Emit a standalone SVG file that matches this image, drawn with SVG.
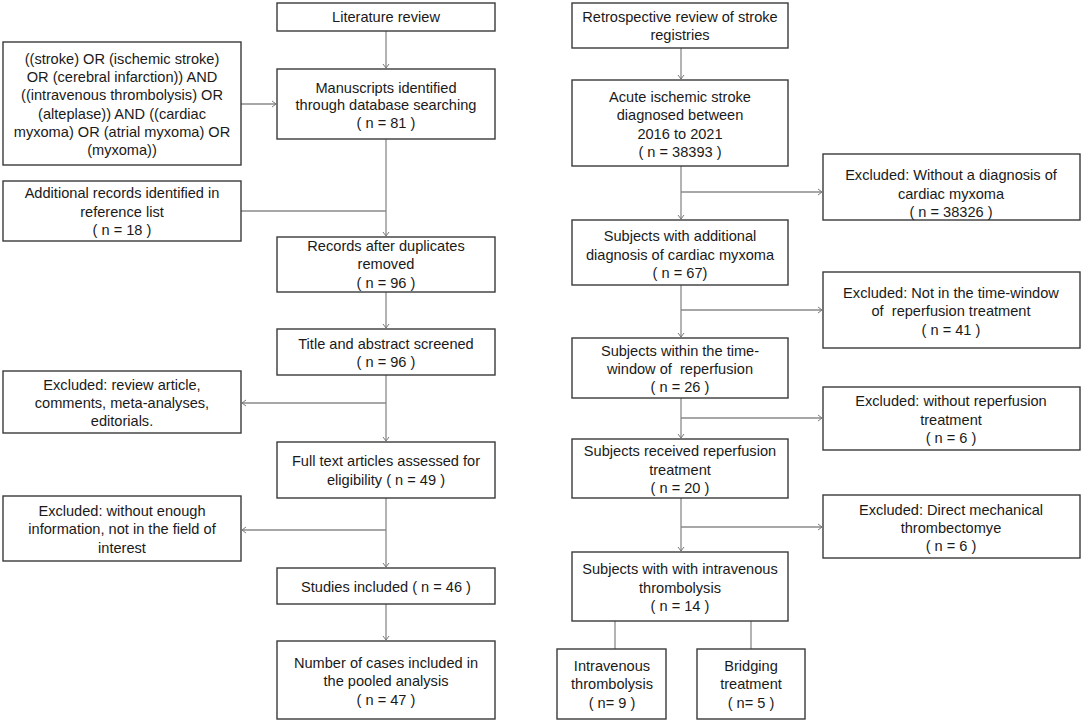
<svg xmlns="http://www.w3.org/2000/svg" width="1084" height="723" viewBox="0 0 1084 723">
<defs>
<style>
.box{fill:#fff;stroke:#3a3a3a;stroke-width:1.4}
.t{font-family:"Liberation Sans",Arial,sans-serif;font-size:14.6px;fill:#1a1a1a;text-anchor:middle}
.c{fill:none;stroke:#8a8a8a;stroke-width:1.3}
</style>
<marker id="ah" markerWidth="8" markerHeight="8" refX="5" refY="4" orient="auto" markerUnits="userSpaceOnUse">
<path d="M1,1 L5,4 L1,7" fill="none" stroke="#7a7a7a" stroke-width="1"/>
</marker>
</defs>
<rect width="1084" height="723" fill="#fff"/>
<g id="connectors">
<line class="c" x1="386" y1="31" x2="386" y2="68" marker-end="url(#ah)"/>
<line class="c" x1="241" y1="104" x2="276" y2="104" marker-end="url(#ah)"/>
<line class="c" x1="386" y1="139" x2="386" y2="236" marker-end="url(#ah)"/>
<line class="c" x1="241" y1="211" x2="386" y2="211"/>
<line class="c" x1="386" y1="292" x2="386" y2="328" marker-end="url(#ah)"/>
<line class="c" x1="386" y1="375" x2="386" y2="441" marker-end="url(#ah)"/>
<line class="c" x1="386" y1="403" x2="242" y2="403" marker-end="url(#ah)"/>
<line class="c" x1="386" y1="498" x2="386" y2="567" marker-end="url(#ah)"/>
<line class="c" x1="386" y1="530" x2="242" y2="530" marker-end="url(#ah)"/>
<line class="c" x1="386" y1="604" x2="386" y2="640" marker-end="url(#ah)"/>
<line class="c" x1="681" y1="48" x2="681" y2="79" marker-end="url(#ah)"/>
<line class="c" x1="681" y1="166" x2="681" y2="219" marker-end="url(#ah)"/>
<line class="c" x1="681" y1="192" x2="822" y2="192" marker-end="url(#ah)"/>
<line class="c" x1="681" y1="285" x2="681" y2="337" marker-end="url(#ah)"/>
<line class="c" x1="681" y1="310" x2="822" y2="310" marker-end="url(#ah)"/>
<line class="c" x1="681" y1="398" x2="681" y2="438" marker-end="url(#ah)"/>
<line class="c" x1="681" y1="418" x2="822" y2="418" marker-end="url(#ah)"/>
<line class="c" x1="681" y1="498" x2="681" y2="551" marker-end="url(#ah)"/>
<line class="c" x1="681" y1="527" x2="822" y2="527" marker-end="url(#ah)"/>
<line class="c" x1="615" y1="621" x2="615" y2="649"/>
<line class="c" x1="751" y1="621" x2="751" y2="649"/>
</g>
<g id="lit-review"><rect class="box" x="277" y="3" width="218" height="28"/>
<text class="t" x="386" y="22">Literature review</text></g>
<g id="query"><rect class="box" x="3" y="42" width="238" height="123"/>
<text class="t" x="122" y="63.5">((stroke) OR (ischemic stroke)</text>
<text class="t" x="122" y="81.5">OR (cerebral infarction)) AND</text>
<text class="t" x="122" y="100">((intravenous thrombolysis) OR</text>
<text class="t" x="122" y="118.5">(alteplase)) AND ((cardiac</text>
<text class="t" x="122" y="137">myxoma) OR (atrial myxoma) OR</text>
<text class="t" x="122" y="155">(myxoma))</text></g>
<g id="manuscripts"><rect class="box" x="277" y="69" width="218" height="70"/>
<text class="t" x="386" y="92.5">Manuscripts identified</text>
<text class="t" x="386" y="110">through database searching</text>
<text class="t" x="386" y="127.5">( n = 81 )</text></g>
<g id="additional"><rect class="box" x="3" y="181" width="238" height="60"/>
<text class="t" x="122" y="198">Additional records identified in</text>
<text class="t" x="122" y="217">reference list</text>
<text class="t" x="122" y="235">( n = 18 )</text></g>
<g id="records"><rect class="box" x="277" y="237" width="218" height="55"/>
<text class="t" x="386" y="251">Records after duplicates</text>
<text class="t" x="386" y="269">removed</text>
<text class="t" x="386" y="288">( n = 96 )</text></g>
<g id="title-abstract"><rect class="box" x="277" y="329" width="218" height="46"/>
<text class="t" x="386" y="348.5">Title and abstract screened</text>
<text class="t" x="386" y="367">( n = 96 )</text></g>
<g id="excl-review"><rect class="box" x="3" y="371" width="238" height="62"/>
<text class="t" x="122" y="389.5">Excluded: review article,</text>
<text class="t" x="122" y="408">comments, meta-analyses,</text>
<text class="t" x="122" y="426">editorials.</text></g>
<g id="full-text"><rect class="box" x="277" y="442" width="218" height="56"/>
<text class="t" x="386" y="466">Full text articles assessed for</text>
<text class="t" x="386" y="484.5">eligibility ( n = 49 )</text></g>
<g id="excl-info"><rect class="box" x="3" y="496" width="238" height="65"/>
<text class="t" x="122" y="516">Excluded: without enough</text>
<text class="t" x="122" y="534">information, not in the field of</text>
<text class="t" x="122" y="553">interest</text></g>
<g id="studies"><rect class="box" x="277" y="568" width="218" height="36"/>
<text class="t" x="386" y="592">Studies included ( n = 46 )</text></g>
<g id="cases"><rect class="box" x="277" y="641" width="218" height="78"/>
<text class="t" x="386" y="668">Number of cases included in</text>
<text class="t" x="386" y="686">the pooled analysis</text>
<text class="t" x="386" y="705">( n = 47 )</text></g>
<g id="retro"><rect class="box" x="572" y="3" width="216" height="45"/>
<text class="t" x="680" y="22">Retrospective review of stroke</text>
<text class="t" x="680" y="40">registries</text></g>
<g id="acute"><rect class="box" x="572" y="80" width="216" height="86"/>
<text class="t" x="680" y="102">Acute ischemic stroke</text>
<text class="t" x="680" y="120">diagnosed between</text>
<text class="t" x="680" y="138.5">2016 to 2021</text>
<text class="t" x="680" y="157">( n = 38393 )</text></g>
<g id="excl-diag"><rect class="box" x="823" y="154" width="257" height="66"/>
<text class="t" x="951" y="180">Excluded: Without a diagnosis of</text>
<text class="t" x="951" y="198.5">cardiac myxoma</text>
<text class="t" x="951" y="217">( n = 38326 )</text></g>
<g id="subj-myxoma"><rect class="box" x="572" y="220" width="216" height="65"/>
<text class="t" x="680" y="241">Subjects with additional</text>
<text class="t" x="680" y="259.5">diagnosis of cardiac myxoma</text>
<text class="t" x="680" y="277.5">( n = 67)</text></g>
<g id="excl-window"><rect class="box" x="823" y="272" width="257" height="76"/>
<text class="t" x="951" y="297.5">Excluded: Not in the time-window</text>
<text class="t" x="951" y="316" xml:space="preserve">of  reperfusion treatment</text>
<text class="t" x="951" y="334.5">( n = 41 )</text></g>
<g id="subj-window"><rect class="box" x="572" y="338" width="216" height="60"/>
<text class="t" x="680" y="356">Subjects within the time-</text>
<text class="t" x="680" y="374" xml:space="preserve">window of  reperfusion</text>
<text class="t" x="680" y="392">( n = 26 )</text></g>
<g id="excl-reperf"><rect class="box" x="823" y="387" width="257" height="63"/>
<text class="t" x="951" y="406">Excluded: without reperfusion</text>
<text class="t" x="951" y="424.5">treatment</text>
<text class="t" x="951" y="443">( n = 6 )</text></g>
<g id="subj-reperf"><rect class="box" x="572" y="439" width="216" height="59"/>
<text class="t" x="680" y="456">Subjects received reperfusion</text>
<text class="t" x="680" y="474.5">treatment</text>
<text class="t" x="680" y="492.5">( n = 20 )</text></g>
<g id="excl-mech"><rect class="box" x="823" y="495" width="257" height="63"/>
<text class="t" x="951" y="514.5">Excluded: Direct mechanical</text>
<text class="t" x="951" y="533">thrombectomye</text>
<text class="t" x="951" y="551">( n = 6 )</text></g>
<g id="subj-ivt"><rect class="box" x="572" y="552" width="216" height="69"/>
<text class="t" x="680" y="573.5">Subjects with with intravenous</text>
<text class="t" x="680" y="592.5">thrombolysis</text>
<text class="t" x="680" y="611">( n = 14 )</text></g>
<g id="ivt"><rect class="box" x="557" y="649" width="109" height="70"/>
<text class="t" x="612" y="671">Intravenous</text>
<text class="t" x="612" y="689">thrombolysis</text>
<text class="t" x="612" y="707.5">( n= 9 )</text></g>
<g id="bridging"><rect class="box" x="697" y="649" width="108" height="70"/>
<text class="t" x="751" y="671">Bridging</text>
<text class="t" x="751" y="689">treatment</text>
<text class="t" x="751" y="707.5">( n= 5 )</text></g>
</svg>
